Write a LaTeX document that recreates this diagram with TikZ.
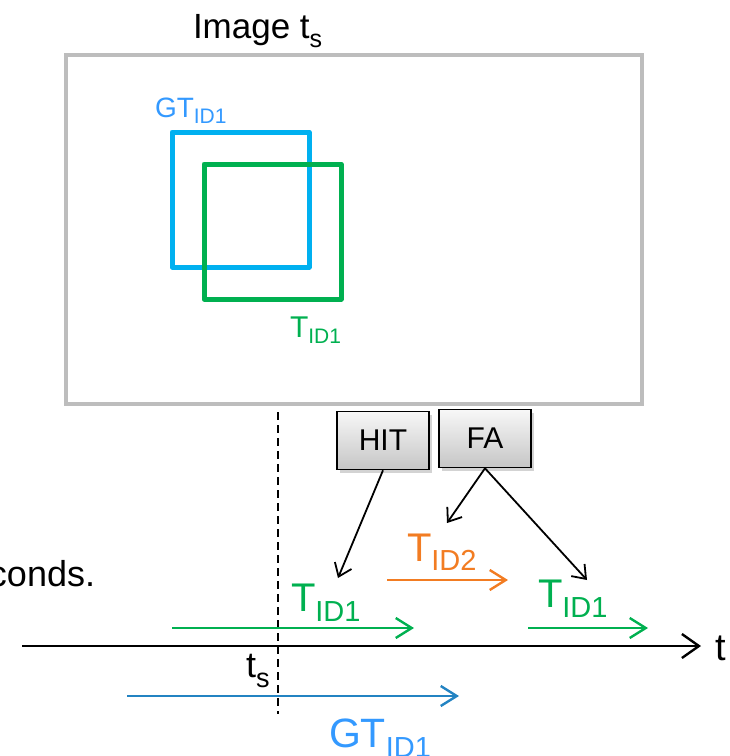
\documentclass[tikz,border=0pt]{standalone}
\usepackage{fontspec}
\setmainfont{Liberation Sans}
\usetikzlibrary{arrows.meta,shadows}
\definecolor{framegray}{HTML}{BDBDBD}
\definecolor{boxblue}{HTML}{00B0F0}
\definecolor{boxgreen}{HTML}{00B050}
\definecolor{labblue}{HTML}{3399FF}
\definecolor{gtarrow}{HTML}{2383C2}
\definecolor{orangeT}{HTML}{F27C22}
\newcommand{\mylab}[5]{{\fontsize{#2}{#2}\selectfont #1}\raisebox{-#5pt}{\fontsize{#4}{#4}\selectfont #3}}
\tikzset{
  txt/.style={anchor=base west, inner sep=0pt, outer sep=0pt},
  labbox/.style={draw=black, line width=1.6pt, minimum width=92pt, minimum height=58pt,
    top color=gray!6, bottom color=gray!45, inner sep=0pt,
    drop shadow={shadow xshift=3pt, shadow yshift=-3pt, opacity=0.35, fill=gray},
    font=\fontsize{30}{30}\selectfont},
  tl/.style={line width=2.4pt, -{Straight Barb[length=16pt,width=20pt]}},
  pointer/.style={line width=1.8pt, black, -{Straight Barb[length=12pt,width=18pt]}}
}
\begin{document}
\begin{tikzpicture}[x=1pt,y=-1pt]
\useasboundingbox (0,0) rectangle (730,756);
% image frame
\draw[framegray, line width=3.5pt] (66,55) rectangle (642,404);
\node[txt] (imgtitle) at (193,38) {\mylab{Image t}{35}{s}{25}{9}};
% boxes
\draw[boxblue, line width=5pt, line join=round] (172,132) rectangle (309,267);
\draw[boxgreen, line width=5pt, line join=round] (204,164) rectangle (341,299);
\node[txt, text=labblue] (gtlab) at (155,117) {\mylab{GT}{28}{ID1}{21}{6}};
\node[txt, text=boxgreen] (tlab) at (290,337) {\mylab{T}{30}{ID1}{21}{6}};
% dashed time line
\draw[dash pattern=on 8pt off 5pt, line width=1.5pt] (278,412) -- (278,714);
% axis
\coordinate (ax0) at (22,646);
\coordinate (ax1) at (701,646);
\draw[line width=2.4pt, -{Straight Barb[length=17pt,width=24pt]}] (ax0) -- (ax1);
\node[txt] (tlabel) at (715,660) {\fontsize{38}{38}\selectfont t};
\node[txt] (tslabel) at (246,677) {\mylab{t}{36}{s}{27}{10}};
% left clipped text
\node[txt] (conds) at (-11,586) {\fontsize{36}{36}\selectfont conds.};
% track arrows
\coordinate (g1a) at (172,628); \coordinate (g1b) at (414,628);
\coordinate (g2a) at (528,628); \coordinate (g2b) at (648,628);
\coordinate (oa) at (387,580); \coordinate (ob) at (508,580);
\coordinate (ba) at (127,696); \coordinate (bb) at (459,696);
\draw[tl, boxgreen] (g1a) -- (g1b);
\draw[tl, boxgreen] (g2a) -- (g2b);
\draw[tl, orangeT] (oa) -- (ob);
\draw[tl, gtarrow] (ba) -- (bb);
\node[txt, text=boxgreen] (t1) at (291,611) {\mylab{T}{40}{ID1}{29}{10}};
\node[txt, text=orangeT] (t2) at (407,561) {\mylab{T}{40}{ID2}{29}{9}};
\node[txt, text=boxgreen] (t3) at (538,607) {\mylab{T}{40}{ID1}{29}{10}};
\node[txt, text=labblue] (gtb) at (329,747) {\mylab{GT}{41}{ID1}{29}{10}};
% HIT / FA
\node[labbox] (hit) at (383,440.5) {HIT};
\node[labbox] (fa) at (485,438.5) {FA};
\coordinate (hitend) at (338,578);
\coordinate (faend1) at (447,523);
\coordinate (faend2) at (587,580);
\draw[pointer] (hit.south) -- (hitend);
\draw[pointer] (fa.south) -- (faend1);
\draw[pointer] (fa.south) -- (faend2);
\end{tikzpicture}
\end{document}
